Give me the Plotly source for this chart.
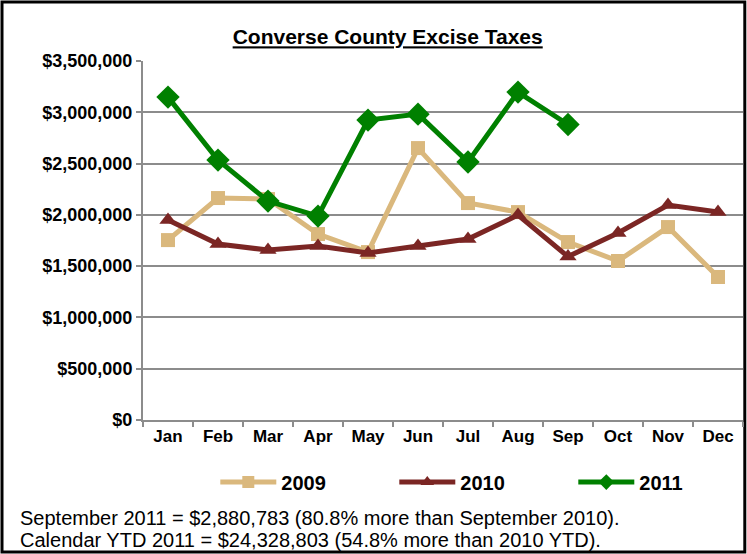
import plotly.graph_objs as go

months = ["Jan", "Feb", "Mar", "Apr", "May", "Jun", "Jul", "Aug", "Sep", "Oct", "Nov", "Dec"]

taxes_2009 = [1754000, 2164000, 2154000, 1813000, 1637000, 2651000,
              2115000, 2027000, 1735000, 1550000, 1881000, 1394000]
taxes_2010 = [1949000, 1715000, 1657000, 1696000, 1628000, 1696000,
              1764000, 1998000, 1593000, 1823000, 2095000, 2027000]
taxes_2011 = [3148000, 2534000, 2134000, 1988000, 2924000, 2982000,
              2515000, 3197000, 2880783]

footer_1 = "September 2011 = $2,880,783 (80.8% more than September 2010)."
footer_2 = "Calendar YTD 2011 = $24,328,803 (54.8% more than 2010 YTD)."

FONT = "Liberation Sans, Arial, sans-serif"
GRID = "#8c8c8c"

fig = go.Figure()

# 2009
fig.add_trace(go.Scatter(
    x=months, y=taxes_2009, mode="lines+markers", name="2009",
    line=dict(color="#dab87d", width=5),
    marker=dict(symbol="square", size=14, color="#dab87d")
))
# 2010
fig.add_trace(go.Scatter(
    x=months, y=taxes_2010, mode="lines+markers", name="2010",
    line=dict(color="#7b2624", width=5),
    marker=dict(symbol="triangle-up", size=15, color="#7b2624")
))
# 2011
fig.add_trace(go.Scatter(
    x=months[:len(taxes_2011)], y=taxes_2011, mode="lines+markers", name="2011",
    line=dict(color="#008000", width=5),
    marker=dict(symbol="diamond", size=18, color="#008000")
))

fig.update_layout(
    width=747, height=554,
    margin=dict(l=143, r=4, t=61, b=134, autoexpand=False),
    paper_bgcolor="white", plot_bgcolor="white",
    font=dict(family=FONT, color="black"),
    title=dict(
        text="<b><u>Converse County Excise Taxes</u></b>",
        x=0.519, xanchor="center", y=1 - 37 / 554, yanchor="middle",
        yref="container", font=dict(size=21, family=FONT, color="black")
    ),
    xaxis=dict(
        type="category", range=[-0.5, 11.5],
        showline=True, linecolor=GRID, linewidth=2,
        ticks="outside", tickson="boundaries", ticklen=5, tickcolor=GRID, tickwidth=2,
        showgrid=False,
        tickfont=dict(size=17, family=FONT, color="black", weight="bold")
    ),
    yaxis=dict(
        range=[0, 3500000], dtick=500000, tickformat="$,.0f",
        showline=True, linecolor=GRID, linewidth=2,
        ticks="outside", ticklen=5, tickcolor=GRID, tickwidth=2,
        showgrid=True, gridcolor=GRID, gridwidth=2,
        zeroline=False,
        tickfont=dict(size=18, family=FONT, color="black", weight="bold")
    ),
    legend=dict(
        orientation="h", x=0.568, xanchor="center", y=-0.173, yanchor="middle",
        itemwidth=56, entrywidth=108, itemsizing="constant",
        bgcolor="rgba(0,0,0,0)",
        font=dict(size=20, family=FONT, color="black", weight="bold")
    ),
    shapes=[dict(
        type="rect", xref="paper", yref="paper",
        x0=-0.235, x1=1.003, y0=-0.368, y1=1.164,
        line=dict(color="black", width=3), layer="below"
    )],
    annotations=[
        dict(text=footer_1, xref="paper", yref="paper", x=-0.208, y=-0.273,
             xanchor="left", yanchor="middle", showarrow=False,
             font=dict(size=20, family=FONT, color="black")),
        dict(text=footer_2, xref="paper", yref="paper", x=-0.208, y=-0.334,
             xanchor="left", yanchor="middle", showarrow=False,
             font=dict(size=20, family=FONT, color="black")),
    ]
)

# drop the default page margin so the figure sits at the window corner
fig.write_html("out.html", config={"displayModeBar": False},
               post_script="document.body.style.margin='0';")
